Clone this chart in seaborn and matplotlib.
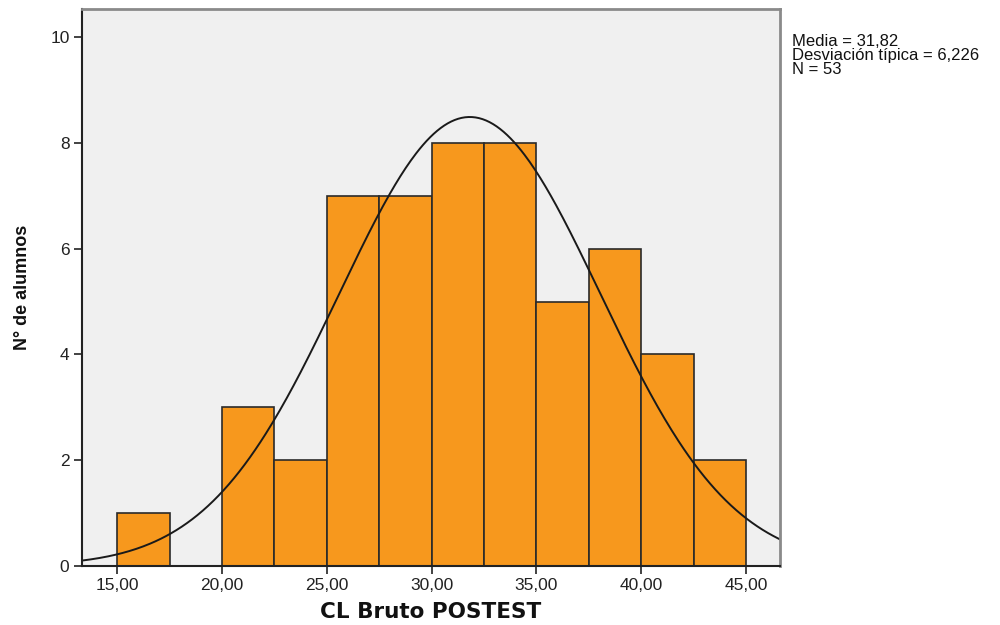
import numpy as np
import pandas as pd
import matplotlib
matplotlib.use("Agg")
import matplotlib.pyplot as plt
import seaborn as sns

bin_edges = [15.0, 17.5, 20.0, 22.5, 25.0, 27.5, 30.0, 32.5, 35.0, 37.5, 40.0, 42.5, 45.0]
counts = [1, 0, 3, 2, 7, 7, 8, 8, 5, 6, 4, 2]
mean_val = 31.82
sd_val = 6.226
n_val = 53
x_ticks = [15, 20, 25, 30, 35, 40, 45]
x_tick_labels = ["15,00", "20,00", "25,00", "30,00", "35,00", "40,00", "45,00"]
y_ticks = [0, 2, 4, 6, 8, 10]

sns.set_style("white")
plt.rcParams['font.family'] = ['Liberation Sans', 'DejaVu Sans']

fig = plt.figure(figsize=(10, 6.25), dpi=100)
ax = fig.add_axes([0.082, 0.0944, 0.698, 0.891])
ax.set_facecolor("#F0F0F0")

centers = [(a + b) / 2 for a, b in zip(bin_edges[:-1], bin_edges[1:])]
df = pd.DataFrame({"x": centers, "w": counts})
sns.histplot(data=df, x="x", weights="w", bins=bin_edges, ax=ax,
             color="#F7981D", alpha=1.0, edgecolor="#2a2a2a", linewidth=1.2)

xs = np.linspace(13.32, 46.62, 400)
binw = bin_edges[1] - bin_edges[0]
ys = n_val * binw / (sd_val * np.sqrt(2 * np.pi)) * np.exp(-0.5 * ((xs - mean_val) / sd_val) ** 2)
sns.lineplot(x=xs, y=ys, ax=ax, color="#1a1a1a", linewidth=1.4)

ax.set_xlim(13.32, 46.62)
ax.set_ylim(0, 10.53)
ax.set_xticks(x_ticks)
ax.set_xticklabels(x_tick_labels)
ax.set_yticks(y_ticks)
ax.tick_params(axis="both", direction="out", length=6, width=1.2, color="#222222",
               labelsize=12.5, labelcolor="#222222", pad=3,
               bottom=True, left=True)

for side in ["left", "bottom"]:
    ax.spines[side].set_color("#222222")
    ax.spines[side].set_linewidth(1.5)
for side in ["top", "right"]:
    ax.spines[side].set_visible(True)
    ax.spines[side].set_color("#8a8a8a")
    ax.spines[side].set_linewidth(2)

ax.set_xlabel("CL Bruto POSTEST", fontsize=15.5, fontweight="bold", labelpad=6,
              family=["DejaVu Sans"], color="#111111")
ax.set_ylabel("N° de alumnos", fontsize=13, fontweight="bold", labelpad=14,
              color="#111111")

fig.text(0.792, 0.946, "Media = 31,82\nDesviación típica = 6,226\nN = 53",
         fontsize=12, va="top", ha="left", linespacing=0.92, color="#111111")

fig.savefig("out.png", dpi=100)
